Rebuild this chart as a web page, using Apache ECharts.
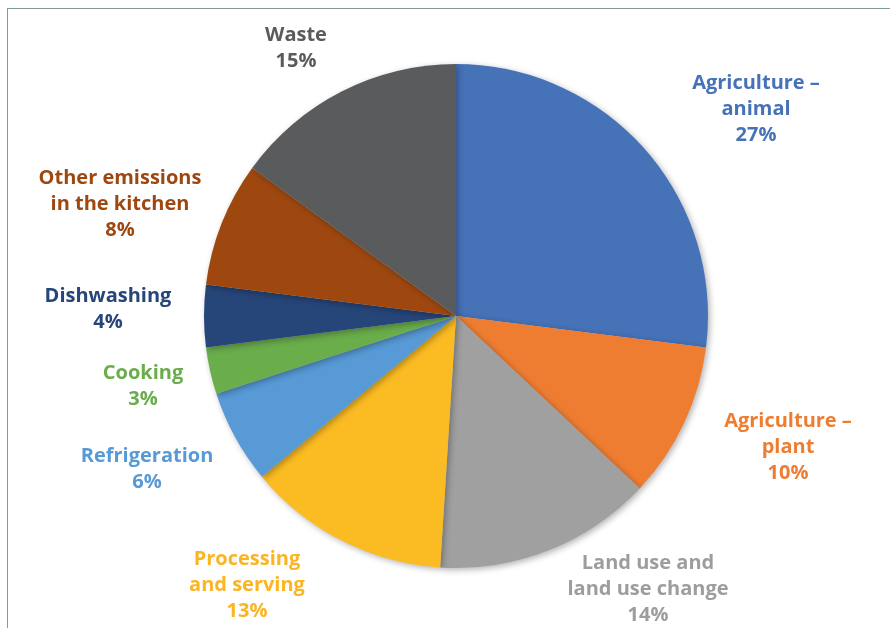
<!DOCTYPE html>
<html><head><meta charset="utf-8">
<script src="https://cdn.jsdelivr.net/npm/echarts@6/dist/echarts.min.js"></script>
<style>
html,body{margin:0;padding:0;background:#fff;}
#frame{position:absolute;left:7px;top:8px;width:900px;height:640px;border:1px solid #7f9e8c;box-sizing:border-box;}
#chart{position:absolute;left:0;top:0;width:890px;height:628px;}
</style></head>
<body><div id="frame"></div><div id="chart"></div>
<script>
const categories = ['Agriculture –\nanimal', 'Agriculture –\nplant', 'Land use and\nland use change', 'Processing\nand serving', 'Refrigeration', 'Cooking', 'Dishwashing', 'Other emissions\nin the kitchen', 'Waste'];
const values = [27, 10, 14, 13, 6, 3, 4, 8, 15];
const colors = ['#4672b8', '#ee7d32', '#a0a0a0', '#fbbb22', '#579ad6', '#6aad4b', '#264579', '#9e4810', '#5a5b5d'];
const textColors = ['#4672b8', '#ee7d32', '#9d9d9d', '#fbb522', '#579ad6', '#6aad4b', '#264579', '#9e4810', '#5a5b5d'];
// label centre positions (layout only)
const labelPos = [[756,109],[788,447],[648,589],[247,585],[147,469],[143,386],[108,309],[120,204],[296,48]];

const chart = echarts.init(document.getElementById('chart'), null, {renderer:'canvas'});
chart.setOption({
  animation:false,
  series:[{
    type:'pie',
    center:[456,316],
    radius:252,
    startAngle:90,
    clockwise:true,
    data: categories.map((c,i)=>({name:c, value:values[i],
      itemStyle:{color:colors[i]},
      label:{color:textColors[i]}})),
    itemStyle:{shadowBlur:6, shadowOffsetX:2, shadowOffsetY:2, shadowColor:'rgba(0,0,0,0.3)'},
    label:{show:true, position:'outside', overflow:'none', edgeDistance:0, formatter:'{b}\n{c}%', fontFamily:'Open Sans', fontWeight:'bold', fontSize:20, lineHeight:26, align:'center'},
    labelLine:{show:false},
    labelLayout:function(p){ const pos=labelPos[p.dataIndex]; return {x:pos[0], y:pos[1], align:'center', verticalAlign:'middle'}; }
  }]
});
</script></body></html>
